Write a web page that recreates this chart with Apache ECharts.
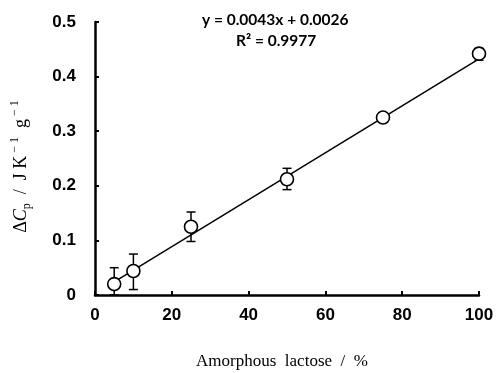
<!DOCTYPE html>
<html>
<head>
<meta charset="utf-8">
<script src="https://cdn.jsdelivr.net/npm/echarts@6/dist/echarts.min.js"></script>
<style>
  html, body { margin: 0; padding: 0; background: #fff; }
  #chart { width: 496px; height: 373px; }
</style>
</head>
<body>
<div id="chart"></div>
<script>
// Heat capacity step versus amorphous lactose content
const amorphousPct = [5, 10, 25, 50, 75, 100];
const deltaCp      = [0.020, 0.044, 0.125, 0.212, 0.325, 0.442];
const errLow       = [0.000, 0.010, 0.098, 0.193, 0.321, 0.430];
const errHigh      = [0.050, 0.075, 0.152, 0.232, 0.329, 0.452];

// Linear fit as stated on the chart
const fitSlope = 0.0043;
const fitIntercept = 0.0026;
const fitRange = [5, 100];
const fitEquation = 'y = 0.0043x + 0.0026';
const fitR2 = '0.9977';

const xTickLabels = ['0', '20', '40', '60', '80', '100'];
const yTickLabels = ['0', '0.1', '0.2', '0.3', '0.4', '0.5'];

const points = amorphousPct.map((x, i) => [x, deltaCp[i]]);
const bars = amorphousPct.map((x, i) => [x, errLow[i], errHigh[i]]);
const fitLine = fitRange.map(x => [x, fitSlope * x + fitIntercept]);

const chart = echarts.init(document.getElementById('chart'), null, { renderer: 'canvas' });

const tickFont = { color: '#000', fontFamily: 'Liberation Sans', fontWeight: 'bold', fontSize: 17 };
const serif = 'Liberation Serif';
const nb = '\u00a0';

chart.setOption({
  animation: false,
  backgroundColor: '#fff',
  grid: { left: 95, right: 17, top: 22, bottom: 78, containLabel: false, outerBoundsMode: 'none' },
  xAxis: {
    type: 'value', min: 0, max: 100, interval: 20,
    axisLine: { show: true, lineStyle: { color: '#000', width: 2.5 } },
    axisTick: { show: true, inside: true, length: 4, lineStyle: { color: '#000', width: 2 } },
    splitLine: { show: false },
    axisLabel: Object.assign({ margin: 12, formatter: v => xTickLabels[Math.round(v / 20)] }, tickFont),
    name: ['Amorphous', 'lactose', '/', '%'].join(nb + nb),
    nameLocation: 'middle', nameGap: 58,
    nameTextStyle: { color: '#000', fontFamily: serif, fontSize: 17, padding: [0, 10, 0, 0] }
  },
  yAxis: {
    type: 'value', min: 0, max: 0.5, interval: 0.1,
    axisLine: { show: true, lineStyle: { color: '#000', width: 2.5 } },
    axisTick: { show: true, inside: true, length: 4, lineStyle: { color: '#000', width: 2 } },
    splitLine: { show: false },
    axisLabel: Object.assign({ margin: 19, formatter: v => yTickLabels[Math.round(v * 10)] }, tickFont),
    name: '{t|Δ}{c|C}{s|p}{t|' + nb + nb + '/' + nb + nb + 'J' + nb + 'K}{u|' + nb + '−' + nb + '1}{t|' + nb + nb + 'g}{u|' + nb + '−' + nb + '1}',
    nameLocation: 'middle', nameGap: 62, nameRotate: 90,
    nameTextStyle: {
      color: '#000', padding: [0, 0, 0, -16],
      rich: {
        t: { fontFamily: serif, fontSize: 18, lineHeight: 24, color: '#000', verticalAlign: 'middle' },
        c: { fontFamily: serif, fontSize: 18, fontStyle: 'italic', lineHeight: 24, color: '#000', verticalAlign: 'middle' },
        s: { fontFamily: serif, fontSize: 12, lineHeight: 24, color: '#000', verticalAlign: 'bottom' },
        u: { fontFamily: serif, fontSize: 12, lineHeight: 24, color: '#000', verticalAlign: 'top' }
      }
    }
  },
  graphic: [
    {
      type: 'text', left: 202, top: 12,
      style: { text: fitEquation, fill: '#000', font: 'bold 15.5px Lato' }
    },
    {
      type: 'text', left: 236, top: 33,
      style: { text: 'R² = ' + fitR2, fill: '#000', font: 'bold 15.5px Lato' }
    }
  ],
  series: [
    {
      name: 'fit', type: 'line', data: fitLine, symbol: 'none', z: 2,
      lineStyle: { color: '#000', width: 1.5 }
    },
    {
      name: 'error', type: 'custom', data: bars, z: 3,
      renderItem: (params, api) => {
        const x = api.value(0);
        const lo = api.coord([x, api.value(1)]);
        const hi = api.coord([x, api.value(2)]);
        const cap = 4.5;
        const style = { stroke: '#000', lineWidth: 1.5 };
        return {
          type: 'group',
          children: [
            { type: 'line', shape: { x1: lo[0], y1: lo[1], x2: hi[0], y2: hi[1] }, style },
            { type: 'line', shape: { x1: hi[0] - cap, y1: hi[1], x2: hi[0] + cap, y2: hi[1] }, style },
            { type: 'line', shape: { x1: lo[0] - cap, y1: lo[1], x2: lo[0] + cap, y2: lo[1] }, style }
          ]
        };
      }
    },
    {
      name: 'ΔCp', type: 'scatter', data: points, z: 4,
      symbol: 'circle', symbolSize: 13,
      itemStyle: { color: '#fff', borderColor: '#000', borderWidth: 1.6, opacity: 1 }
    }
  ]
});
</script>
</body>
</html>
